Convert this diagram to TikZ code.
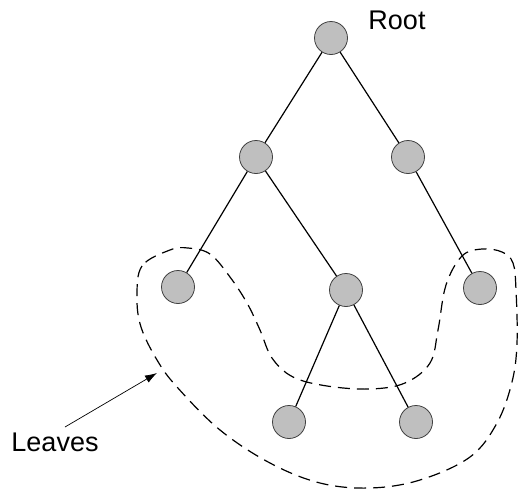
\documentclass[tikz,border=0pt]{standalone}
\usepackage{fontspec}
\setmainfont{Liberation Sans}
\usetikzlibrary{arrows.meta}
\begin{document}
\begin{tikzpicture}[x=1pt,y=-1pt,
  treenode/.style={circle,draw=black!75,fill=black!25,line width=0.8pt,minimum size=33pt,inner sep=0pt},
  edge/.style={line width=1.2pt,black},
  lbl/.style={font=\fontsize{27}{31}\selectfont,inner sep=0pt}]
\useasboundingbox (0,0) rectangle (519,493);
\node[treenode] (root) at (331,38) {};
\node[treenode] (l1) at (256,157) {};
\node[treenode] (r1) at (408,157) {};
\node[treenode] (ll) at (178,287) {};
\node[treenode] (m) at (346,290) {};
\node[treenode] (rr) at (480,288) {};
\node[treenode] (b1) at (289,422) {};
\node[treenode] (b2) at (416,422) {};
\draw[edge] (root) -- (l1);
\draw[edge] (root) -- (r1);
\draw[edge] (l1) -- (ll);
\draw[edge] (l1) -- (m);
\draw[edge] (r1) -- (rr);
\draw[edge] (m) -- (b1);
\draw[edge] (m) -- (b2);
\node[lbl] (rootlbl) at (397,20) {Root};
\node[lbl] (leaveslbl) at (55,442) {Leaves};
\coordinate (arrstart) at (65,427);
\coordinate (arrtip) at (157,373);
\draw[line width=0.7pt,-{Latex[length=12pt,width=8pt]}] (arrstart) -- (arrtip);
\draw[line width=1.2pt,dash pattern=on 12pt off 7pt] plot[smooth cycle,tension=0.6] coordinates {
 (170,250) (142,266) (137,297) (141,327) (157,360) (177,387) (220,430) (270,463)
 (320,483) (370,488) (420,480) (470,457) (497,423) (512,382) (517,343) (516,290) (513,263)
 (502,252) (482,249) (462,256) (446,285) (438,330) (430,363) (405,383) (370,389)
 (327,386) (293,377) (272,358) (260,330) (247,303) (230,277) (210,254) (188,248)};
\end{tikzpicture}
\end{document}
